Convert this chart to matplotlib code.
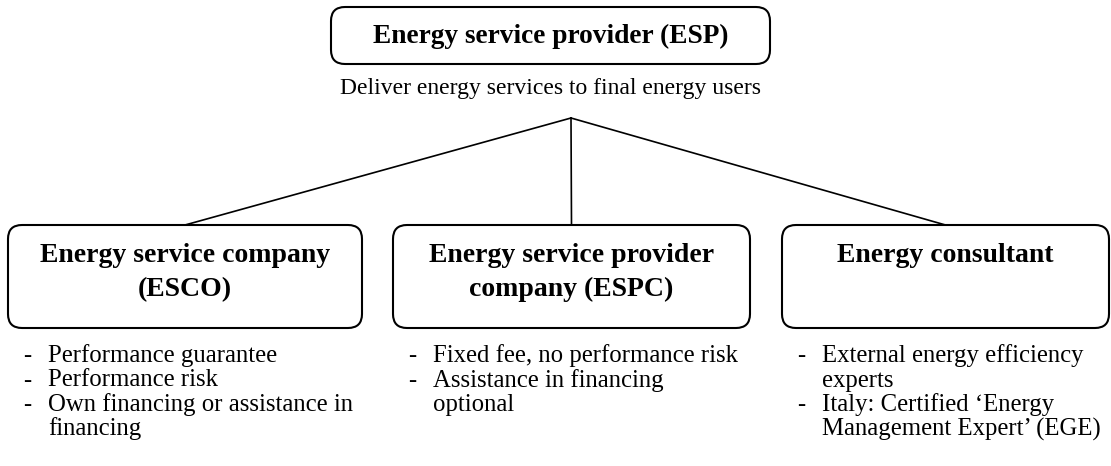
import matplotlib.pyplot as plt
from matplotlib.patches import FancyBboxPatch

plt.rcParams['font.family'] = ['Liberation Serif', 'DejaVu Serif']

top_title = "Energy service provider (ESP)"
top_subtitle = "Deliver energy services to final energy users"

child_titles = [
    ["Energy service company", "(ESCO)"],
    ["Energy service provider", "company (ESPC)"],
    ["Energy consultant"],
]
# each bullet is a list of wrapped lines
child_bullets = [
    [["Performance guarantee"], ["Performance risk"], ["Own financing or assistance in", "financing"]],
    [["Fixed fee, no performance risk"], ["Assistance in financing", "optional"]],
    [["External energy efficiency", "experts"], ["Italy: Certified \u2018Energy", "Management Expert\u2019 (EGE)"]],
]

# layout in pixels (x0, x1) for the child boxes
child_x = [(8, 362), (393, 750), (782, 1109)]
child_y = (225, 328)
top_box = (331, 770, 7, 64)
apex = (571, 118)


def main() -> None:
    fig = plt.figure(figsize=(11.11, 4.66), dpi=100)
    ax = fig.add_axes([0, 0, 1, 1])
    ax.set_xlim(0, 1111)
    ax.set_ylim(466, 0)
    ax.axis('off')

    x0, x1, y0, y1 = top_box
    ax.add_patch(FancyBboxPatch((x0, y0), x1 - x0, y1 - y0,
                                boxstyle="round,pad=0,rounding_size=14",
                                fc='white', ec='black', lw=1.5))
    ax.text((x0 + x1) / 2, 43, top_title, ha='center', va='baseline',
            fontsize=19.7, fontweight='bold')
    ax.text((x0 + x1) / 2, 94, top_subtitle, ha='center', va='baseline', fontsize=17)

    for (bx0, bx1), title, bullets in zip(child_x, child_titles, child_bullets):
        cx = (bx0 + bx1) / 2
        ax.plot([apex[0], cx], [apex[1], child_y[0]], color='black', lw=1.2)
        ax.add_patch(FancyBboxPatch((bx0, child_y[0]), bx1 - bx0, child_y[1] - child_y[0],
                                    boxstyle="round,pad=0,rounding_size=14",
                                    fc='white', ec='black', lw=1.5, zorder=3))
        for i, line in enumerate(title):
            ax.text(cx, 262 + 34 * i, line, ha='center', va='baseline', fontsize=20,
                    fontweight='bold', zorder=4)
        y = 362
        for b in bullets:
            ax.text(bx0 + 15, y, "-", ha='left', va='baseline', fontsize=17.8)
            for line in b:
                ax.text(bx0 + 40, y, line, ha='left', va='baseline', fontsize=17.8)
                y += 24.5

    fig.savefig("out.png", dpi=100)


if __name__ == "__main__":
    main()
